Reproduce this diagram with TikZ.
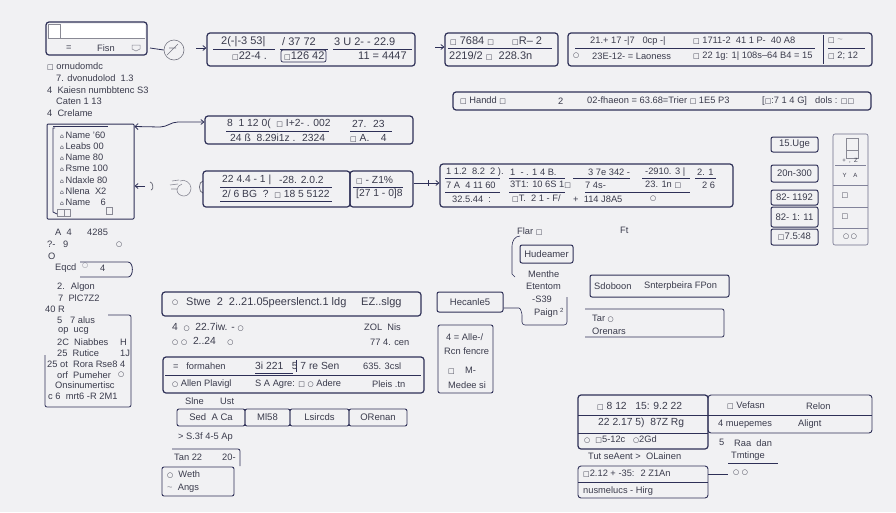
\documentclass[tikz,border=0pt]{standalone}
\usepackage{fontspec}
\setmainfont{Liberation Sans}
\newfontfamily\symf{DejaVu Sans}
\usetikzlibrary{fit,arrows.meta}
\definecolor{bg}{HTML}{F1F1F3}
\definecolor{ln}{HTML}{2E3057}
\definecolor{tx}{HTML}{3A3B4C}
\newcommand{\sq}{{\symf\fontsize{7}{7}\selectfont □}}
\newcommand{\ci}{{\symf\fontsize{7}{7}\selectfont ○}}
\tikzset{
 box/.style={draw=ln, line width=1.2pt, rounded corners=3pt, inner sep=0pt},
 sbox/.style={draw=ln, line width=0.7pt, rounded corners=2pt, inner sep=0pt},
 t/.style={text=tx, font=\fontsize{9.3}{10}\selectfont, inner sep=0pt, anchor=west},
 tb/.style={t, font=\fontsize{10.3}{11}\selectfont},
 tB/.style={t, font=\fontsize{11}{12}\selectfont},
 tc/.style={text=tx, font=\fontsize{9.5}{10}\selectfont, inner sep=0pt},
 ul/.style={draw=ln, line width=0.6pt},
 thin/.style={draw=ln, line width=0.8pt},
 con/.style={draw=ln, line width=0.8pt, -{Straight Barb[length=3pt,width=5pt]}},
 gico/.style={draw=tx!60, line width=0.5pt},
}
\begin{document}
\begin{tikzpicture}[x=1pt,y=-1pt]
\fill[bg] (0,0) rectangle (896,512);
\useasboundingbox (0,0) rectangle (896,512);

% ---------- top-left box ----------
\node[box, fill=bg, fit={(46,22) (147,55)}] (tl) {};
\fill[white] (48,24) rectangle (145,38);
\draw[gico] (48,38) -- (145,38);
\draw[gico] (48,24) rectangle (60,38);
\node[t] (tl1) at (66,48) {=};
\node[t] (tl2) at (97,48) {Fisn};
\draw[gico] (132,45) -- (140,45) -- (140,49) -- (136,51) -- (132,49) -- cycle;
\node[circle, draw=tx!70, line width=0.6pt, minimum size=20pt, inner sep=0pt] (cir) at (174,50) {};
\draw[tx!70, line width=0.6pt] (167,55) -- (178,44) (169,48) -- (176,48);
\coordinate (c0) at (150,48);
\draw[thin] (c0) -- (cir.west);
\node[box, fit={(207,33) (415,66)}] (b1) {};
\coordinate (c1) at (196,48);
\draw[con] (c1) -- (b1.west |- c1);

\node[t] (l1) at (47,67) {\sq\ ornudomdc};
\node[t] (l2) at (56,78) {7. dvonudolod \ 1.3};
\node[t] (l3) at (47,90) {4 \ Kaiesn numbbtenc S3};
\node[t] (l4) at (56,101) {Caten 1 13};
\node[t] (l5) at (47,113) {4 \ Crelame};

% ---------- b1 ----------
\node[tB] (b1a) at (221,42) {2(-|-3 53|};
\node[tB] (b1b) at (282,42) {/ 37 72};
\node[tB] (b1c) at (334,42) {3 U 2- - 22.9};
\draw[ul] (213,49) -- (275,49) (280,49) -- (328,49) (333,49) -- (412,49);
\node[tB] (b1d) at (232,56) {\sq 22-4 .};
\node[tB] (b1e) at (284,56) {\sq 126 42};
\draw[sbox] (281,50) rectangle (326,62);
\node[tB] (b1f) at (358,56) {11 = 4447};

% ---------- b2 ----------
\node[box, fit={(445,33) (558,66)}] (b2) {};
\coordinate (c2) at (435,47);
\draw[con] (c2) -- (b2.west |- c2);
\node[tB] (b2a) at (450,41) {\sq\ 7684 \sq};
\node[tB] (b2b) at (512,41) {\sq R-- 2};
\draw[ul] (448,48) -- (552,48);
\node[tB] (b2c) at (449,56) {2219/2 \sq\ \ 228.3n};

% ---------- b3 ----------
\node[box, fit={(568,33) (872,66)}] (b3) {};
\draw[thin] (823,35) -- (823,64);
\node[t] (b3a) at (590,41) {21.+ 17 -|7 \ \ 0cp -|};
\node[t] (b3b) at (693,41) {\sq\ 1711-2 \ 41 1 P- \ 40 A8};
\draw[ul] (575,48) -- (815,48) (828,48) -- (865,48);
\node[t] (b3c) at (573,56) {\ci};
\node[t] (b3d) at (592,56) {23E-12- = Laoness};
\node[t] (b3e) at (693,56) {\sq\ 22 1g: 1| 108s--64 B4 = 15};
\node[t] (b3f) at (828,41) {\sq\ \textcolor{tx!50}{\~{}}};
\node[t] (b3g) at (828,56) {\sq\ 2; 12};

% ---------- b4 ----------
\node[box, fit={(453,92) (871,110)}] (b4) {};
\node[t] (b4a) at (460,101) {\sq\ Handd \sq};
\node[t] (b4b) at (558,101) {2};
\node[t] (b4c) at (587,101) {02-fhaeon = 63.68=Trier \sq\ 1E5 P3};
\node[t] (b4d) at (762,101) {[\sq:7 1 4 G]};
\node[t] (b4e) at (815,101) {dols : \sq\sq};

% ---------- list box ----------
\node[box, line width=1pt, rounded corners=1pt, fit={(47,124) (134,219)}] (lb) {};
\draw[thin] (53,126) -- (108,126);
\draw[thin] (55,128) -- (53,128) -- (53,212) -- (57,214);
\foreach \n/\y/\s in {1/135/Name '60,2/146/Leabs 00,3/157/Name 80,4/168/Rsme 100,5/180/Ndaxle 80,6/191/Nlena \ X2,7/202/Name \ \ \ 6}{
  \node[t] (li\n) at (60,\y) {{\symf\fontsize{6}{6}\selectfont ⌂}\,\s};
}
\draw[gico] (57,209) rectangle (64,216) (64,209) rectangle (70,216) (106,207) rectangle (112,214);

\node[box, fit={(205,116) (413,144)}] (b5) {};
\coordinate (k1) at (160,127);
\coordinate (k2) at (178,122);
\draw[thin, {Straight Barb[length=3pt,width=6pt]}-{Straight Barb[length=3pt,width=5pt]}]
  ([yshift=-3pt]lb.north east) -- (k1) to[out=0,in=180] (k2) -- (b5.west |- k2);

\coordinate (k3) at (145,186);
\draw[con] (k3) -- (lb.east |- k3);
\draw[tx!80, line width=0.7pt] (150,182) to[out=0,in=0] (151,190);
% hand icon
\draw[gico, line width=0.6pt] (172,181) -- (179,180) (170,185) -- (178,184) (171,189) -- (177,189)
  (180,181) to[out=30,in=90] (191,188) to[out=-90,in=0] (184,196) to[out=180,in=-90] (177,190) to[out=90,in=200] (182,184);
\draw[tx!80, line width=0.7pt] (203,181) to[out=180,in=180] (203,193);

% ---------- b5 ----------
\node[tb] (b5a) at (227,124) {8 \ 1 12 0( \ \sq\ I+2- . 002};
\node[tb] (b5b) at (352,124) {27. \ 23};
\draw[ul] (226,131) -- (329,131) (350,131) -- (392,131);
\node[tb] (b5c) at (230,138) {24 ß \ 8.29i1z . \ 2324};
\node[tb] (b5d) at (350,138) {\sq\ A. \ \ \ 4};

% ---------- b6 ----------
\node[box, fit={(203,171) (350,207)}] (b6) {};
\node[box, fit={(350,171) (413,207)}] (b6b) {};
\node[tb] (b6a) at (222,180) {22 4.4 - 1 |};
\node[tb] (b6c) at (279,180) {-28. 2.0.2};
\draw[ul] (220,187) -- (332,187);
\node[tb] (b6d) at (222,194) {2/ 6 BG \ ? \ \sq\ 18 5 5122};
\draw[ul] (220,201) -- (332,201);
\node[tb] (b6e) at (356,180) {\sq\ - Z1\%};
\node[tb] (b6f) at (356,194) {[27 1 - 0]8};
\draw[ul] (353,187) -- (403,187);

% ---------- b7 ----------
\node[box, fit={(440,164) (733,207)}] (b7) {};
\draw[con] ([yshift=6pt]b6b.east) -- ([yshift=6pt]b6b.east -| b7.west);
\draw[thin] (428,180) -- (428,186);
\node[t] (b7a) at (446,172) {1 1.2 \ 8.2 \ 2 ).};
\node[t] (b7b) at (510,172) {1 \ - . 1 4 B.};
\node[t] (b7c) at (588,172) {3 7e 342 -};
\node[t] (b7d) at (645,172) {-2910. 3 |};
\node[t] (b7e) at (697,172) {2. 1};
\draw[ul] (445,178) -- (500,178) (509,178) -- (565,178) (573,178) -- (630,178) (642,178) -- (690,178) (695,178) -- (716,178);
\node[t] (b7f) at (446,185) {7 A \ 4 11 60};
\node[t] (b7g) at (510,185) {3T1: 10 6S 1\sq};
\node[t] (b7h) at (585,185) {7 4s-};
\node[t] (b7i) at (645,185) {23. 1n \sq};
\node[t] (b7j) at (702,185) {2 6};
\draw[ul] (445,192) -- (500,192) (509,192) -- (565,192) (585,192) -- (690,192);
\node[t] (b7k) at (452,199) {32.5.44 \ :};
\node[t] (b7l) at (512,199) {\sq T. \ 2 1 - F/};
\node[t] (b7m) at (573,199) {+ \ 114 J8A5};
\node[t] (b7n) at (650,199) {\ci};

% ---------- right column ----------
\node[sbox, line width=1pt, fit={(771,137) (818,152)}, label={[tc]center:15.Uge}] (r1) {};
\node[sbox, line width=1pt, fit={(771,165) (818,182)}, label={[tc]center:20n-300}] (r2) {};
\node[sbox, line width=1pt, fit={(771,190) (818,205)}, label={[tc]center:82- 1192}] (r3) {};
\node[sbox, line width=1pt, fit={(771,207) (818,227)}, label={[tc]center:82- 1: 11}] (r4) {};
\node[sbox, line width=1pt, fit={(771,229) (818,245)}, label={[tc]center:\sq 7.5:48}] (r5) {};
\node[sbox, line width=0.6pt, draw=ln!70, fit={(833,134) (868,245)}] (rp) {};
\draw[ln!60, line width=0.5pt] (835,165) -- (866,165) (833,185) -- (868,185) (833,207) -- (868,207) (833,228) -- (868,228);
\draw[gico] (846,138) rectangle (858,158) (846,150) -- (858,150);
\node[tc, font=\fontsize{6}{6}\selectfont] (rp1) at (850,161) {+ \ , \ Z};
\node[tc, font=\fontsize{6}{6}\selectfont] (rp2) at (850,175) {Y \ \ \ A};
\node[tc] (rp3) at (845,196) {\sq};
\node[tc] (rp4) at (845,217) {\sq};
\node[tc] (rp5) at (850,237) {\ci\,\ci};

% ---------- left lower ----------
\node[t] (m1) at (55,232) {A \ 4 \ \ \ \ \ 4285};
\node[t] (m2) at (47,244) {?- \ \ 9};
\node[t] (m3) at (116,245) {\ci};
\node[t] (m4) at (48,256) {O};
\node[t] (m5) at (55,268) {Eqcd};
\node[t] (m6) at (82,266) {\textcolor{tx!60}{\ci}};
\node[t] (m7) at (100,268) {4};
\draw[thin] (80,262) -- (128,262) to[out=0,in=0] (128,277) -- (80,277);
\node[t] (m8) at (57,287) {2. \ Algon};
\node[t] (m9) at (58,298) {7 \ PlC7Z2};
\node[t] (m10) at (45,309) {40 R};
\draw[thin, rounded corners=2pt] (108,315) -- (131,315) -- (131,407) -- (45,407) -- (45,355);
\node[t] (n1) at (57,320) {5 \ \ 7 alus};
\node[t] (n2) at (58,331) {op \ ucg};
\node[t] (n3) at (57,342) {2C \ Niabbes};
\node[t] (n3b) at (120,342) {H};
\node[t] (n4) at (57,353) {25 \ Rutice};
\node[t] (n4b) at (120,353) {1J};
\node[t] (n5) at (47,364) {25 ot \ Rora Rse8};
\node[t] (n5b) at (120,364) {4};
\node[t] (n6) at (57,375) {orf \ Pumeher};
\node[t] (n6b) at (118,375) {\ci};
\node[t] (n7) at (55,385) {Onsinumertisc};
\node[t] (n8) at (48,396) {c 6 \ mrt6 -R 2M1};

% ---------- bottom centre ----------
\node[box, fit={(162,292) (421,316)}] (bc1) {};
\node[tB] (p1) at (172,303) {\ci};
\node[tB] (p2) at (186,303) {Stwe \ 2 \ 2..21.05peerslenct.1 ldg};
\node[tB] (p3) at (361,303) {EZ..slgg};
\node[tb] (p4) at (172,327) {4 \ \ci \ \ 22.7iw. - \ci};
\node[t] (p5) at (364,327) {ZOL \ Nis};
\node[tb] (p6) at (172,341) {\ci \ \ci \ \ 2..24 \ \ \ \ci};
\node[t] (p7) at (370,342) {77 4. cen};
\node[box, fit={(163,357) (424,393)}] (bc2) {};
\draw[thin] (165,375) -- (421,375);
\draw[thin] (296,360) -- (296,372);
\node[t] (q1) at (173,366) {= \ \ formahen};
\node[tb] (q2) at (255,366) {3i 221 \ \ 5 7 re Sen};
\draw[ul] (255,373) -- (293,373);
\node[t] (q3) at (363,366) {635. 3csl};
\node[t] (q4) at (172,384) {\ci \ Allen Plavigl};
\node[t] (q5) at (255,384) {S A Agre: \sq\ \ci \ Adere};
\node[t] (q6) at (372,384) {Pleis .tn};
\node[t] (q7) at (185,401) {Slne};
\node[t] (q8) at (220,401) {Ust};
\node[sbox, line width=0.9pt, fit={(177,409) (245,426)}, label={[tc]center:Sed \ A Ca}] (f1) {};
\node[sbox, line width=0.9pt, fit={(245,409) (290,426)}, label={[tc]center:Ml58}] (f2) {};
\node[sbox, line width=0.9pt, fit={(290,409) (349,426)}, label={[tc]center:Lsircds}] (f3) {};
\node[sbox, line width=0.9pt, fit={(349,409) (407,426)}, label={[tc]center:ORenan}] (f4) {};
\node[t] (q9) at (178,437) {> S.3f 4-5 Ap};
\draw[thin, rounded corners=2pt] (172,449) -- (240,449) -- (240,466);
\node[t] (q10) at (174,457) {Tan 22};
\node[t] (q11) at (222,457) {20-};
\node[sbox, line width=0.9pt, fit={(162,467) (234,496)}] (wb) {};
\node[t] (q12) at (167,475) {\ci\ \ Weth};
\node[t] (q13) at (167,488) {\textcolor{tx!60}{\~{}}\ \ Angs};

% ---------- middle ----------
\node[t] (s1) at (517,232) {Flar \sq};
\node[t] (s2) at (620,230) {Ft};
\draw[thin, line width=0.6pt] (520,236) to[out=180,in=90] (512,246) -- (512,274) -- (515,277);
\node[sbox, line width=1pt, fit={(520,245) (573,263)}, label={[tc]center:Hudeamer}] (hud) {};
\node[t] (s3) at (528,274) {Menthe};
\node[t] (s4) at (526,286) {Etentom};
\node[t] (s5) at (532,299) {-S39};
\node[t] (s6) at (534,313) {Paign};
\node[t, font=\fontsize{6}{6}\selectfont] (s7) at (560,310) {2};
\node[sbox, line width=1pt, fit={(437,292) (503,312)}, label={[tc]center:Hecanle5}] (hec) {};
\coordinate (e1) at (516,308);
\coordinate (e2) at (567,325);
\draw[thin, line width=0.6pt, rounded corners=3pt] (hec.east |- e1) -- (e1) to[out=0,in=90] (522,318) -- (522,325) -- (e2) -- (567,297);
\node[sbox, line width=0.9pt, fit={(438,325) (493,393)}] (ma) {};
\node[t] (s8) at (446,337) {4 = Alle-/};
\node[t] (s9) at (444,351) {Rcn fencre};
\node[t] (s10) at (448,371) {\sq \ \ \ \ M-};
\node[t] (s11) at (448,385) {Medee si};
\node[sbox, line width=1pt, fit={(590,275) (729,297)}] (sdo) {};
\node[t] (s12) at (594,286) {Sdoboon};
\node[t] (s13) at (644,286) {Snterpbeira FPon};
\draw[thin, rounded corners=2pt] (585,309) -- (724,309) -- (724,337) -- (585,337);
\node[t] (s14) at (592,319) {Tar \ci};
\node[t] (s15) at (592,331) {Orenars};

% ---------- bottom right ----------
\node[box, fit={(578,395) (708,449)}] (br1) {};
\draw[thin] (578,415) -- (708,415) (578,433) -- (708,433);
\node[tb] (u1) at (597,406) {\sq \ 8 12 \ \ 15: 9.2 22};
\node[tb] (u2) at (598,423) {22 2.17 5) \ 87Z Rg};
\node[t] (u3) at (584,440) {\ci \ \ \sq 5-12c \ \ \ci 2Gd};
\node[box, line width=0.9pt, fit={(708,395) (872,433)}] (br2) {};
\draw[thin] (708,415) -- (872,415);
\node[t] (u4) at (727,406) {\sq\ Vefasn};
\node[t] (u5) at (806,406) {Relon};
\node[t] (u6) at (718,424) {4 muepemes};
\node[t] (u7) at (798,424) {Alignt};
\node[t] (u8) at (719,442) {5};
\node[t] (u9) at (734,443) {Raa \ dan};
\node[t] (u10) at (731,456) {Tmtinge};
\draw[ul] (728,463) -- (778,463);
\node[t] (u11) at (733,473) {\ci \ \ci};
\node[t] (u12) at (588,456) {Tut seAent > \ OLainen};
\node[box, line width=0.9pt, fit={(578,466) (708,498)}] (br3) {};
\draw[thin] (578,482) -- (708,482);
\node[t] (u13) at (583,474) {\sq 2.12 + -35: \ 2 Z1An};
\node[t] (u14) at (583,491) {nusmelucs - Hirg};
\coordinate (v1) at (728,474);
\draw[thin] (br3.east |- v1) -- (v1);
\end{tikzpicture}
\end{document}
